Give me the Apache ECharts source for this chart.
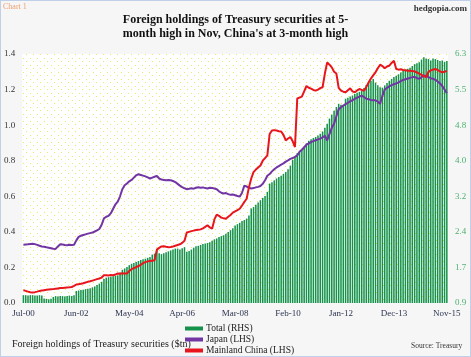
<!DOCTYPE html>
<html><head><meta charset="utf-8">
<script src="https://cdn.jsdelivr.net/npm/echarts@6/dist/echarts.min.js"></script>
<style>
html,body{margin:0;padding:0;background:#f6f6f6;}
#c{width:471px;height:357px;box-sizing:border-box;border:1px solid #bfd0e8;}
</style></head>
<body><div id="c"></div>
<script>
// Month categories Jul-00 .. Nov-15
const monthNames = ['Jan','Feb','Mar','Apr','May','Jun','Jul','Aug','Sep','Oct','Nov','Dec'];
const categories = [];
for (let y = 2000, m = 6; !(y === 2015 && m === 11); ) {
  categories.push(monthNames[m] + '-' + String(y % 100).padStart(2, '0'));
  m++; if (m === 12) { m = 0; y++; }
}
const leftTicks = [0.0, 0.2, 0.4, 0.6, 0.8, 1.0, 1.2, 1.4];
const rightTicks = [0.9, 1.7, 2.4, 3.2, 4.0, 4.8, 5.5, 6.3];

// Total foreign holdings ($tn, RHS)
const total = [
1.07,1.07,1.06,1.07,1.07,1.06,1.06,1.07,1.06,1.00,0.99,0.98,
0.99,1.03,1.05,1.04,1.05,1.05,1.04,1.05,1.06,1.05,1.07,1.16,
1.17,1.18,1.19,1.20,1.21,1.22,1.24,1.26,1.29,1.32,1.36,1.42,
1.45,1.46,1.47,1.48,1.49,1.50,1.56,1.62,1.65,1.68,1.72,1.75,
1.77,1.79,1.81,1.83,1.85,1.86,1.88,1.90,1.95,1.97,2.05,1.98,
1.96,1.98,2.00,2.02,2.04,2.06,2.08,2.08,2.06,2.09,2.11,2.01,
2.03,2.06,2.10,2.13,2.14,2.16,2.18,2.19,2.20,2.22,2.25,2.28,
2.30,2.33,2.35,2.37,2.40,2.44,2.48,2.52,2.58,2.61,2.64,2.68,
2.70,2.73,2.80,2.95,2.98,3.03,3.08,3.13,3.18,3.22,3.31,3.49,
3.52,3.56,3.60,3.63,3.66,3.70,3.74,3.80,3.88,4.00,4.08,4.15,
4.17,4.22,4.28,4.36,4.42,4.45,4.48,4.50,4.53,4.57,4.62,4.70,
4.79,4.90,4.98,5.07,5.15,5.22,5.20,5.17,5.33,5.35,5.38,5.40,
5.43,5.46,5.48,5.50,5.56,5.63,5.68,5.72,5.76,5.68,5.62,5.58,
5.57,5.62,5.67,5.72,5.76,5.80,5.83,5.86,5.90,5.94,5.96,5.98,
6.00,6.04,6.08,6.10,6.12,6.18,6.23,6.20,6.19,6.16,6.20,6.19,
6.17,6.15,6.16,6.13,6.15];

// Japan ($tn, LHS)
const japan = [
0.328,0.329,0.330,0.332,0.333,0.331,0.327,0.322,0.318,0.316,0.313,0.311,
0.308,0.305,0.304,0.318,0.330,0.329,0.326,0.325,0.327,0.326,0.328,0.352,
0.372,0.378,0.382,0.386,0.390,0.393,0.396,0.402,0.408,0.416,0.440,0.476,
0.485,0.490,0.505,0.530,0.555,0.570,0.600,0.640,0.662,0.672,0.684,0.692,
0.705,0.718,0.724,0.720,0.716,0.712,0.706,0.700,0.705,0.710,0.715,0.700,
0.694,0.692,0.690,0.691,0.690,0.686,0.680,0.670,0.660,0.652,0.645,0.640,
0.642,0.645,0.643,0.648,0.651,0.648,0.650,0.646,0.644,0.648,0.646,0.644,
0.640,0.628,0.620,0.616,0.618,0.612,0.608,0.610,0.606,0.602,0.598,0.620,
0.660,0.655,0.648,0.644,0.646,0.650,0.653,0.658,0.670,0.690,0.715,0.725,
0.740,0.752,0.762,0.770,0.778,0.785,0.795,0.802,0.810,0.815,0.822,0.830,
0.850,0.862,0.876,0.890,0.898,0.905,0.910,0.915,0.920,0.924,0.932,0.940,
0.914,0.950,0.985,1.008,1.050,1.090,1.100,1.110,1.118,1.126,1.134,1.140,
1.148,1.155,1.160,1.166,1.158,1.148,1.146,1.142,1.140,1.140,1.132,1.120,
1.165,1.200,1.210,1.218,1.225,1.230,1.235,1.240,1.248,1.254,1.258,1.262,
1.266,1.270,1.272,1.265,1.260,1.270,1.280,1.276,1.270,1.264,1.260,1.255,
1.245,1.235,1.220,1.200,1.180];

// Mainland China ($tn, LHS)
const china = [
0.072,0.068,0.064,0.060,0.059,0.061,0.064,0.068,0.070,0.072,0.074,0.076,
0.077,0.078,0.080,0.082,0.084,0.085,0.086,0.087,0.088,0.090,0.096,0.104,
0.106,0.108,0.111,0.115,0.119,0.122,0.126,0.130,0.134,0.138,0.143,0.156,
0.156,0.155,0.157,0.156,0.160,0.166,0.165,0.167,0.166,0.166,0.180,0.190,
0.196,0.202,0.208,0.215,0.224,0.230,0.234,0.236,0.238,0.240,0.300,0.310,
0.318,0.319,0.316,0.314,0.315,0.318,0.322,0.326,0.330,0.338,0.350,0.396,
0.400,0.404,0.407,0.410,0.412,0.414,0.420,0.428,0.437,0.425,0.418,0.470,
0.497,0.490,0.480,0.476,0.474,0.485,0.495,0.508,0.515,0.522,0.530,0.548,
0.568,0.586,0.650,0.700,0.736,0.750,0.762,0.773,0.800,0.815,0.830,0.950,
0.970,0.972,0.970,0.966,0.964,0.945,0.914,0.925,0.933,0.910,0.877,1.150,
1.155,1.160,1.190,1.220,1.210,1.205,1.198,1.194,1.200,1.208,1.213,1.290,
1.353,1.340,1.325,1.300,1.290,1.210,1.194,1.188,1.185,1.196,1.207,1.190,
1.185,1.195,1.203,1.198,1.194,1.215,1.240,1.262,1.280,1.297,1.320,1.340,
1.332,1.320,1.330,1.334,1.350,1.362,1.316,1.312,1.314,1.310,1.308,1.306,
1.306,1.305,1.302,1.296,1.290,1.283,1.276,1.270,1.300,1.308,1.312,1.316,
1.310,1.302,1.297,1.300,1.305];

// dotted plot background
const pc = document.createElement('canvas');
pc.width = 7; pc.height = 7;
const pctx = pc.getContext('2d');
pctx.fillStyle = '#ffffff'; pctx.fillRect(0,0,7,7);
pctx.fillStyle = '#eaea6a';
pctx.fillRect(1,1,1,1); pctx.fillRect(4,4,1,1);

const serif = '"Liberation Serif","Times New Roman",serif';
const chart = echarts.init(document.getElementById('c'), null, {renderer:'canvas'});
chart.setOption({
  backgroundColor: '#f6f6f6',
  animation: false,
  textStyle: {fontFamily: serif},
  title: {
    text: 'Foreign holdings of Treasury securities at 5-\nmonth high in Nov, China\'s at 3-month high',
    left: 'center', top: 7,
    textStyle: {fontFamily: serif, fontSize: 12, fontWeight: 'bold', color: '#111', lineHeight: 14}
  },
  graphic: [
    {type:'text', left: 2, top: 2, style:{text:'Chart 1', fontFamily: serif, fontSize: 8, fill:'#eea070'}},
    {type:'text', right: 3, top: 3, style:{text:'hedgopia.com', fontFamily: serif, fontSize: 9, fontWeight:'bold', fill:'#333'}},
    {type:'text', left: 11, top: 338, style:{text:'Foreign holdings of Treasury securities ($tn)', fontFamily: serif, fontSize: 10, fill:'#222'}},
    {type:'text', left: 410, top: 341, style:{text:'Source: Treasury', fontFamily: serif, fontSize: 7.5, fill:'#333'}}
  ],
  legend: {
    orient: 'vertical', left: 184, top: 322, itemGap: 0, padding: 0, height: 35,
    itemWidth: 18, itemHeight: 4,
    textStyle: {fontFamily: serif, fontSize: 9.5, color: '#222', lineHeight: 11, padding:[0,0,0,-2]},
    data: [
      {name:'Total (RHS)', icon:'rect'},
      {name:'Japan (LHS)', icon:'rect'},
      {name:'Mainland China (LHS)', icon:'rect'}
    ]
  },
  grid: {left: 21, right: 22, top: 53, bottom: 53, show: true, borderWidth: 0,
    backgroundColor: {image: pc, repeat: 'repeat'}},
  xAxis: {
    type: 'category', data: categories, boundaryGap: true,
    axisLine: {show: false}, axisTick: {show: false},
    axisLabel: {interval: 22, fontFamily: serif, fontSize: 9, color: '#2d3550', margin: 6}
  },
  yAxis: [
    {type:'value', min: leftTicks[0], max: leftTicks[leftTicks.length-1], interval: 0.2,
     axisLine:{show:false}, axisTick:{show:false}, splitLine:{show:false},
     axisLabel:{fontFamily: serif, fontSize: 9, color:'#333', margin: 7, formatter: v => v.toFixed(1)}},
    {type:'value', min: rightTicks[0], max: rightTicks[rightTicks.length-1], interval: (6.3-0.9)/7,
     axisLine:{show:false}, axisTick:{show:false}, splitLine:{show:false},
     axisLabel:{fontFamily: serif, fontSize: 9, color:'#4cb070', margin: 7, formatter: v => v.toFixed(1)}}
  ],
  series: [
    {name:'Total (RHS)', type:'bar', yAxisIndex: 1, data: total, barWidth: '66%',
     itemStyle:{color:'#14914a'}},
    {name:'Japan (LHS)', type:'line', yAxisIndex: 0, data: japan, showSymbol: false,
     lineStyle:{color:'#7136a3', width: 2}, itemStyle:{color:'#7136a3'}},
    {name:'Mainland China (LHS)', type:'line', yAxisIndex: 0, data: china, showSymbol: false,
     lineStyle:{color:'#e8161c', width: 2}, itemStyle:{color:'#e8161c'}}
  ]
});
</script></body></html>
